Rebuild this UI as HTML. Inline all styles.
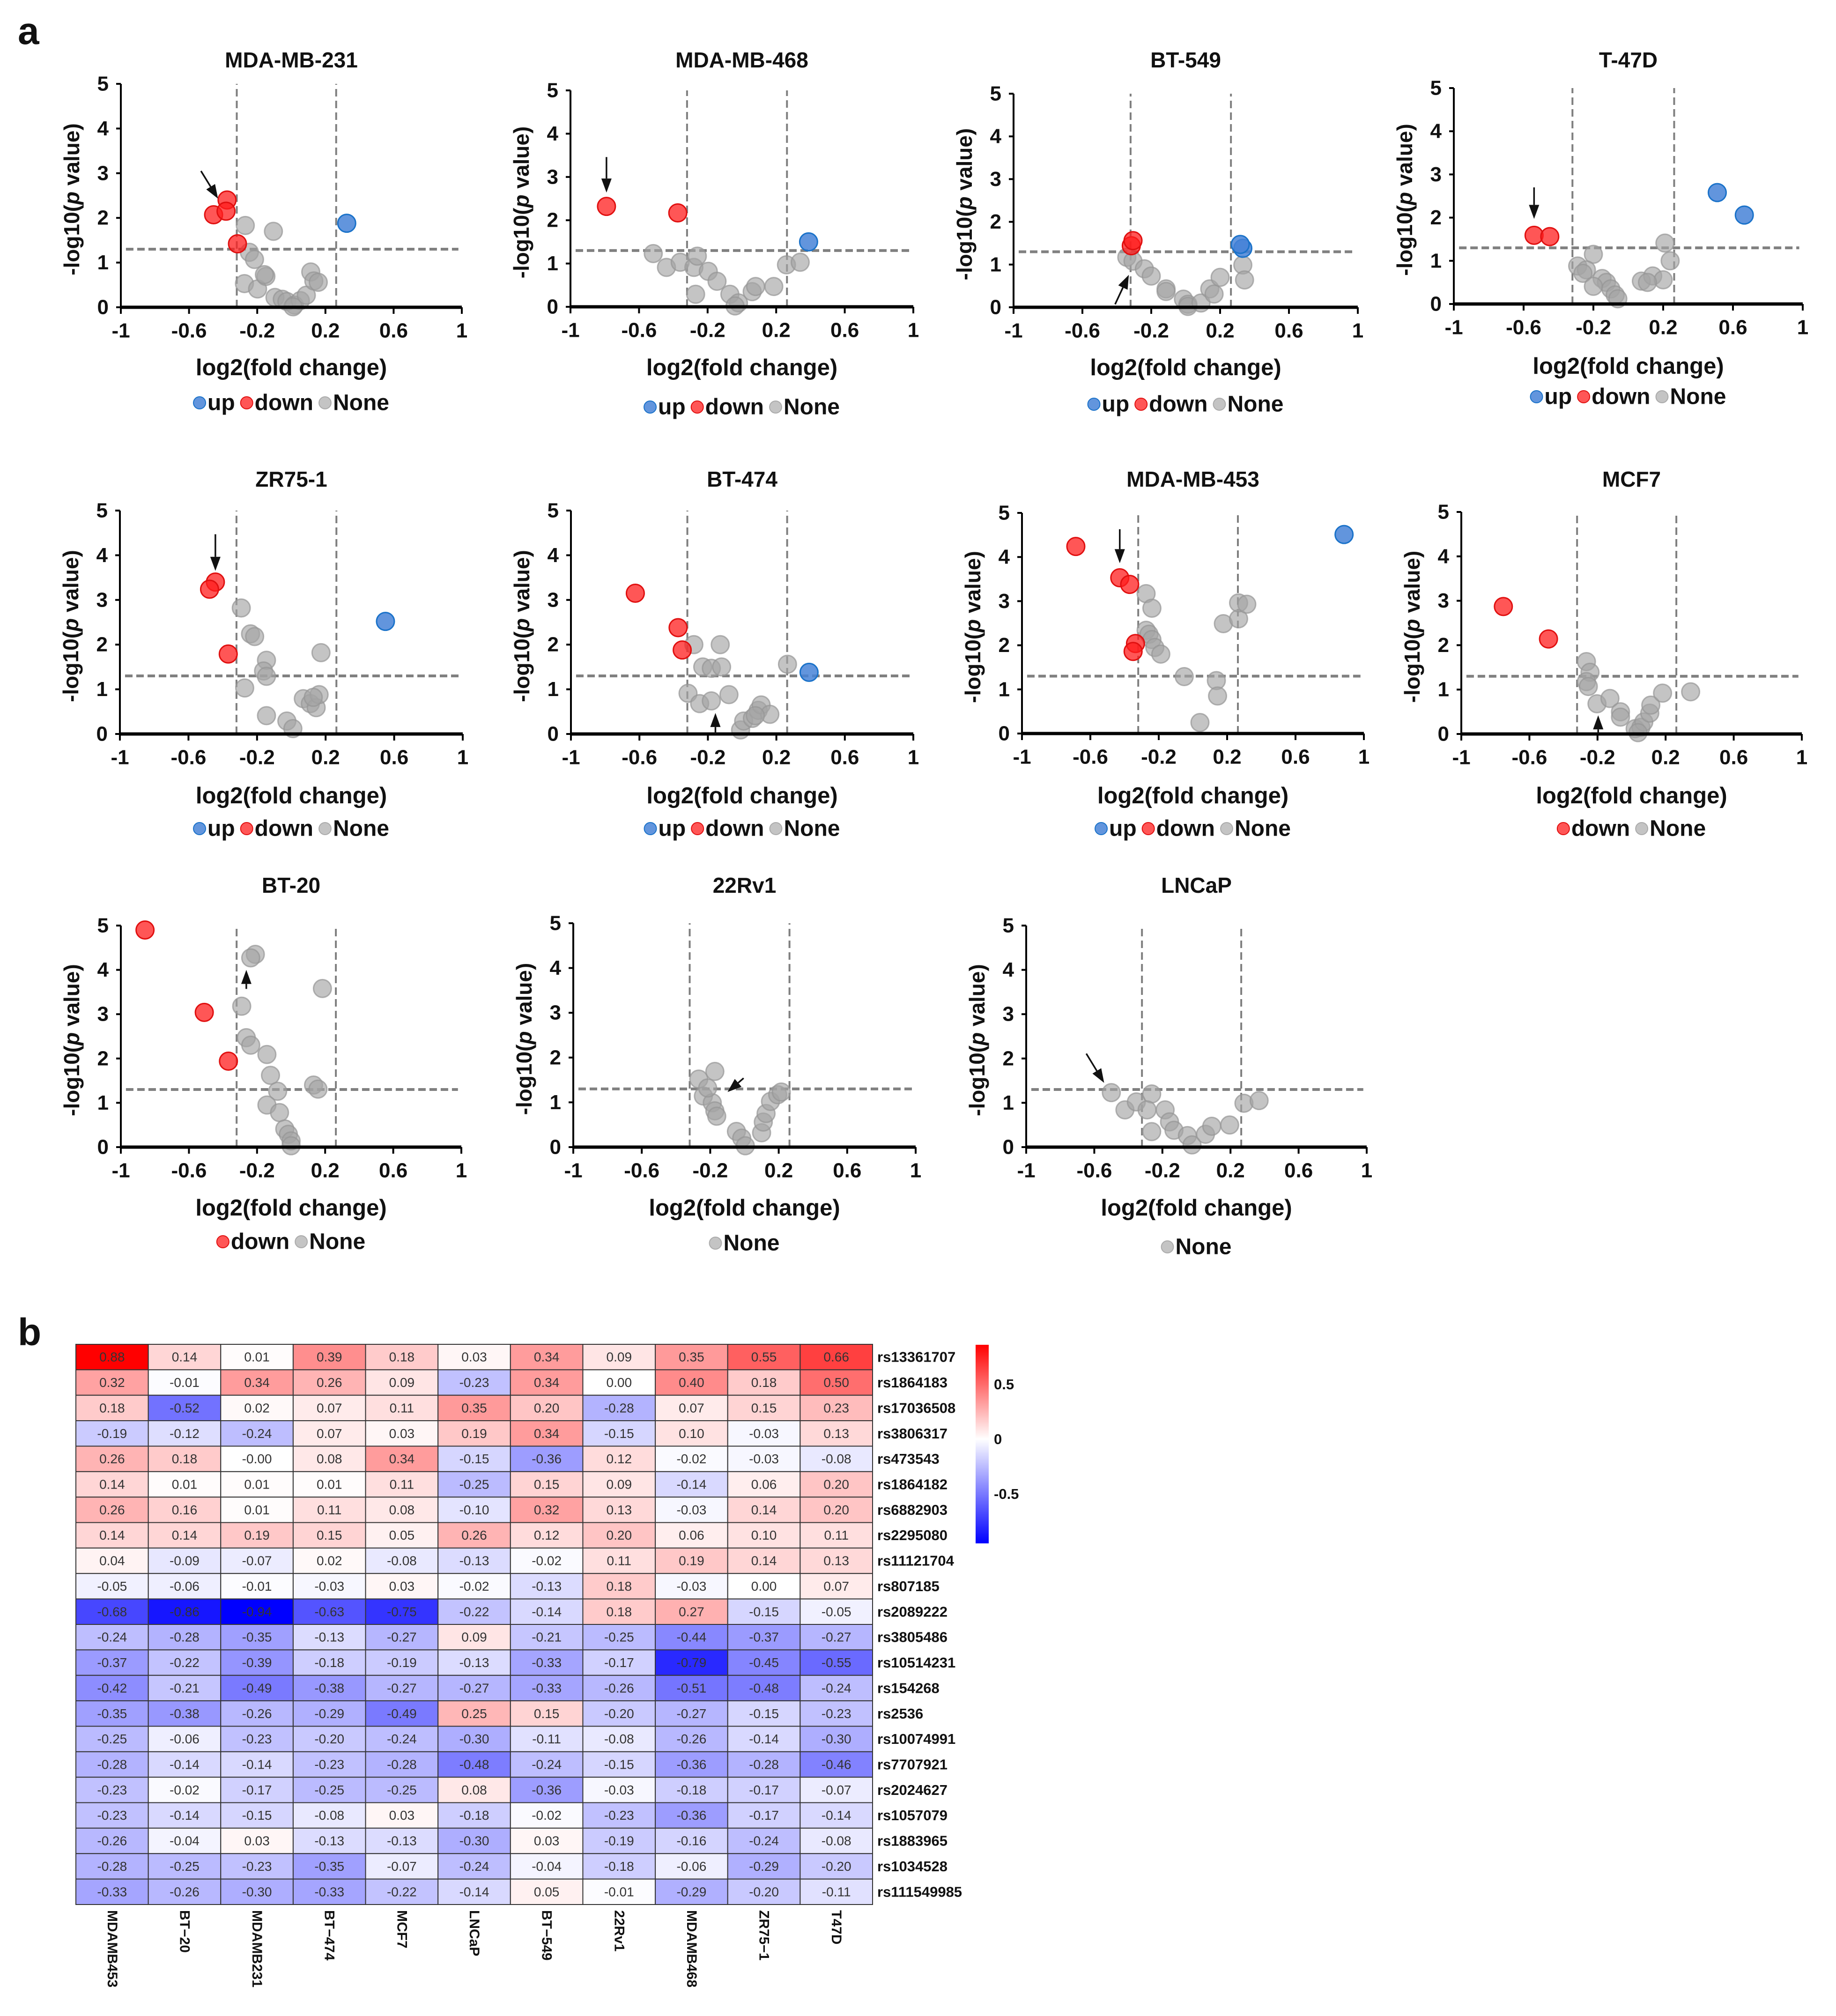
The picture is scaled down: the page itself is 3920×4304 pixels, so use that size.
<!DOCTYPE html>
<html><head><meta charset="utf-8">
<style>
html,body{margin:0;padding:0;background:#fff;}
svg{display:block;font-family:"Liberation Sans",Arial,sans-serif;}
</style></head>
<body>
<svg id="fig" width="3920" height="4304" viewBox="0 0 3920 4304" xmlns="http://www.w3.org/2000/svg">
<defs>
<linearGradient id="cbar" x1="0" y1="0" x2="0" y2="1">
<stop offset="0" stop-color="#ff0000"/><stop offset="0.475" stop-color="#ffffff"/><stop offset="1" stop-color="#0000ff"/>
</linearGradient>
</defs>
<text x="38" y="94" font-size="82" font-weight="bold" fill="#111">a</text>
<text x="38" y="2872" font-size="82" font-weight="bold" fill="#111">b</text>
<g id="volcanoes"></g>
<g id="heatmap"></g>
</svg>
<script>
// ---------- Volcano data (log2 fold change, -log10 p) ----------
const mdamb231_upX=[0.325]; const mdamb231_upY=[1.88];
const mdamb231_downX=[-0.377,-0.456,-0.383,-0.316]; const mdamb231_downY=[2.40,2.07,2.15,1.42];
const mdamb231_noneX=[-0.27,-0.105,-0.246,-0.216,-0.275,-0.198,-0.149,-0.158,-0.096,-0.053,-0.026,0.018,0.053,0.088,0.114,0.132,0.158,0.01];
const mdamb231_noneY=[1.83,1.70,1.23,1.07,0.53,0.41,0.69,0.73,0.22,0.18,0.13,0.05,0.15,0.27,0.79,0.59,0.56,0.01];

const mdamb468_upX=[0.389]; const mdamb468_upY=[1.50];
const mdamb468_downX=[-0.79,-0.374]; const mdamb468_downY=[2.32,2.17];
const mdamb468_noneX=[-0.517,-0.44,-0.36,-0.28,-0.26,-0.196,-0.145,-0.27,-0.07,-0.02,-0.04,0.06,0.08,0.186,0.26,0.34];
const mdamb468_noneY=[1.23,0.91,1.03,0.91,1.17,0.82,0.59,0.29,0.29,0.09,0.02,0.35,0.47,0.47,0.97,1.03];

const bt549_upX=[0.332,0.317]; const bt549_upY=[1.38,1.47];
const bt549_downX=[-0.316,-0.306]; const bt549_downY=[1.44,1.56];
const bt549_noneX=[-0.342,-0.306,-0.24,-0.2,-0.114,-0.114,-0.013,0.013,0.013,0.089,0.14,0.165,0.2,0.332,0.342];
const bt549_noneY=[1.17,1.08,0.90,0.73,0.43,0.37,0.19,0.07,0.02,0.10,0.43,0.31,0.70,0.99,0.64];

const t47d_upX=[0.51,0.665]; const t47d_upY=[2.58,2.06];
const t47d_downX=[-0.54,-0.45]; const t47d_downY=[1.59,1.56];
const t47d_noneX=[-0.2,-0.29,-0.24,-0.26,-0.15,-0.125,-0.2,-0.1,-0.075,-0.06,0.075,0.14,0.2,0.21,0.24,0.11];
const t47d_noneY=[1.15,0.88,0.79,0.71,0.59,0.50,0.41,0.35,0.21,0.12,0.53,0.65,0.56,1.41,1.0,0.5];

const zr751_upX=[0.549]; const zr751_upY=[2.52];
const zr751_downX=[-0.443,-0.477,-0.368]; const zr751_downY=[3.4,3.24,1.79];
const zr751_noneX=[-0.292,-0.238,-0.214,-0.145,-0.162,-0.145,-0.272,-0.145,-0.026,0.009,0.07,0.111,0.145,0.162,0.173,0.128];
const zr751_noneY=[2.82,2.24,2.18,1.65,1.41,1.29,1.03,0.41,0.29,0.12,0.79,0.68,0.59,0.88,1.82,0.82];

const bt474_upX=[0.391]; const bt474_upY=[1.38];
const bt474_downX=[-0.624,-0.374,-0.35]; const bt474_downY=[3.15,2.38,1.88];
const bt474_noneX=[-0.282,-0.128,-0.23,-0.18,-0.12,0.265,-0.316,-0.248,-0.18,-0.077,-0.009,0.009,0.06,0.094,0.111,0.162,0.077];
const bt474_noneY=[2.0,2.0,1.5,1.47,1.5,1.56,0.91,0.68,0.74,0.88,0.09,0.29,0.35,0.53,0.65,0.44,0.41];

const mdamb453_upX=[0.884]; const mdamb453_upY=[4.51];
const mdamb453_downX=[-0.685,-0.428,-0.37,-0.336,-0.35]; const mdamb453_downY=[4.24,3.53,3.38,2.04,1.86];
const mdamb453_noneX=[-0.274,-0.24,-0.274,-0.257,-0.24,-0.223,-0.188,-0.051,0.041,0.137,0.144,0.178,0.267,0.267,0.315];
const mdamb453_noneY=[3.17,2.84,2.34,2.25,2.13,1.95,1.8,1.29,0.25,1.2,0.85,2.49,2.6,2.96,2.93];

const mcf7_upX=[]; const mcf7_upY=[];
const mcf7_downX=[-0.753,-0.488]; const mcf7_downY=[2.87,2.14];
const mcf7_noneX=[-0.265,-0.244,-0.265,-0.254,-0.203,-0.127,-0.065,-0.065,0.021,0.055,0.072,0.107,0.113,0.182,0.347,0.038];
const mcf7_noneY=[1.63,1.39,1.18,1.07,0.68,0.8,0.5,0.38,0.12,0.15,0.27,0.47,0.65,0.92,0.95,0.03];

const bt20_upX=[]; const bt20_upY=[];
const bt20_downX=[-0.858,-0.51,-0.368]; const bt20_downY=[4.9,3.04,1.94];
const bt20_noneX=[-0.21,-0.237,-0.29,-0.263,-0.237,-0.142,-0.121,-0.079,-0.142,-0.068,-0.037,-0.016,0,0,0.132,0.158,0.184];
const bt20_noneY=[4.35,4.27,3.18,2.47,2.3,2.09,1.62,1.26,0.95,0.78,0.41,0.29,0.14,0.03,1.4,1.31,3.58];

const rv22_upX=[]; const rv22_upY=[];
const rv22_downX=[]; const rv22_downY=[];
const rv22_noneX=[-0.267,-0.173,-0.24,-0.188,-0.173,-0.162,-0.215,-0.047,-0.016,0.005,0.1,0.11,0.126,0.152,0.194,0.215];
const rv22_noneY=[1.52,1.69,1.14,0.99,0.81,0.69,1.32,0.35,0.2,0.03,0.32,0.56,0.75,1.02,1.17,1.23];

const lncap_upX=[]; const lncap_upY=[];
const lncap_downX=[]; const lncap_downY=[];
const lncap_noneX=[-0.5,-0.42,-0.353,-0.263,-0.29,-0.184,-0.158,-0.263,-0.132,-0.053,-0.026,0.053,0.09,0.195,0.279,0.368];
const lncap_noneY=[1.23,0.84,1.02,1.2,0.84,0.84,0.57,0.35,0.38,0.26,0.05,0.29,0.47,0.5,0.99,1.05];

const xTicks=[-1,-0.6,-0.2,0.2,0.6,1];
const xTickLabels=["-1","-0.6","-0.2","0.2","0.6","1"];
const yTicks=[0,1,2,3,4,5];
const fcThresholds=[-0.32,0.263];
const pThreshold=1.3;

// ---------- Heatmap data ----------
const cellLines=["MDAMB453","BT\u221220","MDAMB231","BT\u2212474","MCF7","LNCaP","BT\u2212549","22Rv1","MDAMB468","ZR75\u22121","T47D"];
const snps=["rs13361707","rs1864183","rs17036508","rs3806317","rs473543","rs1864182","rs6882903","rs2295080","rs11121704","rs807185","rs2089222","rs3805486","rs10514231","rs154268","rs2536","rs10074991","rs7707921","rs2024627","rs1057079","rs1883965","rs1034528","rs111549985"];
const heatValues=[
[0.88,0.14,0.01,0.39,0.18,0.03,0.34,0.09,0.35,0.55,0.66],
[0.32,-0.01,0.34,0.26,0.09,-0.23,0.34,0.00,0.40,0.18,0.50],
[0.18,-0.52,0.02,0.07,0.11,0.35,0.20,-0.28,0.07,0.15,0.23],
[-0.19,-0.12,-0.24,0.07,0.03,0.19,0.34,-0.15,0.10,-0.03,0.13],
[0.26,0.18,-0.001,0.08,0.34,-0.15,-0.36,0.12,-0.02,-0.03,-0.08],
[0.14,0.01,0.01,0.01,0.11,-0.25,0.15,0.09,-0.14,0.06,0.20],
[0.26,0.16,0.01,0.11,0.08,-0.10,0.32,0.13,-0.03,0.14,0.20],
[0.14,0.14,0.19,0.15,0.05,0.26,0.12,0.20,0.06,0.10,0.11],
[0.04,-0.09,-0.07,0.02,-0.08,-0.13,-0.02,0.11,0.19,0.14,0.13],
[-0.05,-0.06,-0.01,-0.03,0.03,-0.02,-0.13,0.18,-0.03,0.00,0.07],
[-0.68,-0.86,-0.94,-0.63,-0.75,-0.22,-0.14,0.18,0.27,-0.15,-0.05],
[-0.24,-0.28,-0.35,-0.13,-0.27,0.09,-0.21,-0.25,-0.44,-0.37,-0.27],
[-0.37,-0.22,-0.39,-0.18,-0.19,-0.13,-0.33,-0.17,-0.79,-0.45,-0.55],
[-0.42,-0.21,-0.49,-0.38,-0.27,-0.27,-0.33,-0.26,-0.51,-0.48,-0.24],
[-0.35,-0.38,-0.26,-0.29,-0.49,0.25,0.15,-0.20,-0.27,-0.15,-0.23],
[-0.25,-0.06,-0.23,-0.20,-0.24,-0.30,-0.11,-0.08,-0.26,-0.14,-0.30],
[-0.28,-0.14,-0.14,-0.23,-0.28,-0.48,-0.24,-0.15,-0.36,-0.28,-0.46],
[-0.23,-0.02,-0.17,-0.25,-0.25,0.08,-0.36,-0.03,-0.18,-0.17,-0.07],
[-0.23,-0.14,-0.15,-0.08,0.03,-0.18,-0.02,-0.23,-0.36,-0.17,-0.14],
[-0.26,-0.04,0.03,-0.13,-0.13,-0.30,0.03,-0.19,-0.16,-0.24,-0.08],
[-0.28,-0.25,-0.23,-0.35,-0.07,-0.24,-0.04,-0.18,-0.06,-0.29,-0.20],
[-0.33,-0.26,-0.30,-0.33,-0.22,-0.14,0.05,-0.01,-0.29,-0.20,-0.11]
];
const colorbarTicks=[0.5,0,-0.5];

// ---------- layout ----------
const NS="http://www.w3.org/2000/svg";
function mk(tag,attrs,parent){const e=document.createElementNS(NS,tag);for(const k in attrs)e.setAttribute(k,attrs[k]);parent.appendChild(e);return e;}

const plots=[
 {key:"mdamb231",title:"MDA-MB-231",ax:258,x1:986,y0:656,y5:179,tY:128,lY:785,gY:860,leg:["up","down","None"],arrow:[-0.53,3.05,-0.43,2.43]},
 {key:"mdamb468",title:"MDA-MB-468",ax:1218,x1:1950,y0:655,y5:193,tY:128,lY:785,gY:869,leg:["up","down","None"],arrow:[-0.79,3.46,-0.79,2.64]},
 {key:"bt549",title:"BT-549",ax:2164,x1:2899,y0:656,y5:200,tY:128,lY:785,gY:863,leg:["up","down","None"],arrow:[-0.41,0.07,-0.33,0.76]},
 {key:"t47d",title:"T-47D",ax:3104,x1:3849,y0:649,y5:188,tY:128,lY:782,gY:847,leg:["up","down","None"],arrow:[-0.54,2.7,-0.54,1.97]},
 {key:"zr751",title:"ZR75-1",ax:256,x1:988,y0:1567,y5:1090,tY:1023,lY:1699,gY:1769,leg:["up","down","None"],arrow:[-0.443,4.47,-0.443,3.65]},
 {key:"bt474",title:"BT-474",ax:1219,x1:1950,y0:1567,y5:1090,tY:1023,lY:1699,gY:1769,leg:["up","down","None"],arrow:[-0.156,0.0,-0.156,0.47]},
 {key:"mdamb453",title:"MDA-MB-453",ax:2182,x1:2912,y0:1566,y5:1095,tY:1023,lY:1699,gY:1769,leg:["up","down","None"],arrow:[-0.428,4.63,-0.428,3.86]},
 {key:"mcf7",title:"MCF7",ax:3120,x1:3847,y0:1567,y5:1093,tY:1023,lY:1699,gY:1769,leg:["down","None"],arrow:[-0.196,0.0,-0.196,0.42]},
 {key:"bt20",title:"BT-20",ax:258,x1:985,y0:2449,y5:1976,tY:1890,lY:2579,gY:2651,leg:["down","None"],arrow:[-0.263,3.57,-0.263,4.0]},
 {key:"rv22",title:"22Rv1",ax:1224,x1:1955,y0:2449,y5:1971,tY:1890,lY:2579,gY:2654,leg:["None"],arrow:[-0.005,1.54,-0.099,1.23]},
 {key:"lncap",title:"LNCaP",ax:2191,x1:2918,y0:2449,y5:1976,tY:1890,lY:2579,gY:2662,leg:["None"],arrow:[-0.647,2.11,-0.542,1.45]}
];
const dataMap={
 mdamb231:[mdamb231_upX,mdamb231_upY,mdamb231_downX,mdamb231_downY,mdamb231_noneX,mdamb231_noneY],
 mdamb468:[mdamb468_upX,mdamb468_upY,mdamb468_downX,mdamb468_downY,mdamb468_noneX,mdamb468_noneY],
 bt549:[bt549_upX,bt549_upY,bt549_downX,bt549_downY,bt549_noneX,bt549_noneY],
 t47d:[t47d_upX,t47d_upY,t47d_downX,t47d_downY,t47d_noneX,t47d_noneY],
 zr751:[zr751_upX,zr751_upY,zr751_downX,zr751_downY,zr751_noneX,zr751_noneY],
 bt474:[bt474_upX,bt474_upY,bt474_downX,bt474_downY,bt474_noneX,bt474_noneY],
 mdamb453:[mdamb453_upX,mdamb453_upY,mdamb453_downX,mdamb453_downY,mdamb453_noneX,mdamb453_noneY],
 mcf7:[mcf7_upX,mcf7_upY,mcf7_downX,mcf7_downY,mcf7_noneX,mcf7_noneY],
 bt20:[bt20_upX,bt20_upY,bt20_downX,bt20_downY,bt20_noneX,bt20_noneY],
 rv22:[rv22_upX,rv22_upY,rv22_downX,rv22_downY,rv22_noneX,rv22_noneY],
 lncap:[lncap_upX,lncap_upY,lncap_downX,lncap_downY,lncap_noneX,lncap_noneY]
};
const styles={
 up:{fill:"rgba(70,130,215,0.85)",stroke:"#1a72c9"},
 down:{fill:"rgba(255,30,30,0.75)",stroke:"#e01010"},
 None:{fill:"rgba(165,165,165,0.65)",stroke:"rgba(150,150,150,0.7)"}
};

const vroot=document.getElementById("volcanoes");
plots.forEach(p=>{
  const g=mk("g",{},vroot);
  
  
  const sx=v=>p.ax+(v+1)/2*(p.x1-p.ax);
  const sy=v=>p.y0-v/5*(p.y0-p.y5);
  const cx=(p.ax+p.x1)/2;
  const t=mk("text",{x:cx,y:p.tY,"font-size":46,"font-weight":"bold","text-anchor":"middle","dominant-baseline":"central",fill:"#111"},g);
  t.textContent=p.title;
  
  
  fcThresholds.forEach(f=>{
    const l=mk("line",{x1:sx(f),x2:sx(f),y1:sy(0),y2:sy(5),stroke:"#7f7f7f","stroke-width":4,"stroke-dasharray":"16 9"},g);
    
    
  });
  const hl=mk("line",{x1:sx(-0.97),x2:sx(0.98),y1:sy(pThreshold),y2:sy(pThreshold),stroke:"#808080","stroke-width":6,"stroke-dasharray":"16 8"},g);
  
  
  const d=dataMap[p.key];
  [["None",d[4],d[5]],["down",d[2],d[3]],["up",d[0],d[1]]].forEach(([cat,xs,ys])=>{
    xs.forEach((xv,i)=>{
      const c=mk("circle",{cx:sx(xv),cy:sy(ys[i]),r:19,fill:styles[cat].fill,stroke:styles[cat].stroke,"stroke-width":3},g);
      
      
    });
  });
  const ya=mk("line",{x1:p.ax,x2:p.ax,y1:p.y0+3,y2:p.y5,stroke:"#000","stroke-width":4},g);
  
  
  const xa=mk("line",{x1:p.ax,x2:p.x1,y1:p.y0,y2:p.y0,stroke:"#000","stroke-width":7},g);
  
  
  yTicks.forEach(v=>{
    mk("line",{x1:p.ax-10,x2:p.ax,y1:sy(v),y2:sy(v),stroke:"#000","stroke-width":4},g);
    const tl=mk("text",{x:p.ax-26,y:sy(v),"font-size":44,"font-weight":"bold","text-anchor":"end","dominant-baseline":"central",fill:"#111"},g);
    tl.textContent=String(v);
    
    
  });
  xTicks.forEach((v,i)=>{
    mk("line",{x1:sx(v),x2:sx(v),y1:p.y0,y2:p.y0+14,stroke:"#000","stroke-width":4},g);
    const tl=mk("text",{x:sx(v),y:p.y0+50,"font-size":44,"font-weight":"bold","text-anchor":"middle","dominant-baseline":"central",fill:"#111"},g);
    tl.textContent=xTickLabels[i];
    
    
  });
  const xt=mk("text",{x:cx,y:p.lY,"font-size":49,"font-weight":"bold","text-anchor":"middle","dominant-baseline":"central",fill:"#111"},g);
  xt.textContent="log2(fold change)";
  
  
  const ymid=(p.y0+p.y5)/2+8;
  const yt=mk("text",{x:0,y:0,"font-size":46,"font-weight":"bold","text-anchor":"middle","dominant-baseline":"central",fill:"#111",transform:`translate(${p.ax-105},${ymid}) rotate(-90)`},g);
  yt.innerHTML='-log10(<tspan font-style="italic">p</tspan> value)';
  
  
  const [ax1,ay1,ax2,ay2]=p.arrow;
  const X1=sx(ax1),Y1=sy(ay1),X2=sx(ax2),Y2=sy(ay2);
  const ang=Math.atan2(Y2-Y1,X2-X1),L=30,W=11;
  const bx=X2-L*Math.cos(ang),by=Y2-L*Math.sin(ang);
  const ag=mk("g",{},g);
  
  
  mk("line",{x1:X1,y1:Y1,x2:bx,y2:by,stroke:"#111","stroke-width":3.5},ag);
  mk("polygon",{points:`${X2},${Y2} ${bx+W*Math.sin(ang)},${by-W*Math.cos(ang)} ${bx-W*Math.sin(ang)},${by+W*Math.cos(ang)}`,fill:"#111"},ag);
  const lg=mk("g",{},g);
  
  
  let xpos=0;
  p.leg.forEach(cat=>{
    const ent=mk("g",{},lg);
    
    
    mk("circle",{cx:xpos+13,cy:p.gY,r:13,fill:styles[cat].fill,stroke:styles[cat].stroke,"stroke-width":2},ent);
    const tx=mk("text",{x:xpos+30,y:p.gY,"font-size":48,"font-weight":"bold","dominant-baseline":"central",fill:"#111"},ent);
    tx.textContent=cat;
    xpos+=30+tx.getComputedTextLength()+12;
  });
  xpos-=12;
  lg.setAttribute("transform",`translate(${cx-xpos/2},0)`);
});

// ---------- heatmap ----------
const hroot=document.getElementById("heatmap");
const HL=162,HR=1863,HT=2870,HB=4066;
const cw=(HR-HL)/cellLines.length, rh=(HB-HT)/snps.length;
function heatColor(v){
  if(v>=0){const t=Math.min(v/0.88,1);const c=Math.round(255*(1-t));return `rgb(255,${c},${c})`;}
  const t=Math.min(-v/0.94,1);const c=Math.round(255*(1-t));return `rgb(${c},${c},255)`;
}
heatValues.forEach((row,i)=>{
  row.forEach((v,j)=>{
    const x=HL+j*cw,y=HT+i*rh;
    const r=mk("rect",{x:x,y:y,width:cw,height:rh,fill:heatColor(v),stroke:"#333","stroke-width":2},hroot);
    
    
    const t=mk("text",{x:x+cw/2,y:y+rh/2,"font-size":28,"text-anchor":"middle","dominant-baseline":"central",fill:"#333"},hroot);
    t.textContent=v.toFixed(2);
    
    
  });
});
snps.forEach((s,i)=>{
  const t=mk("text",{x:HR+10,y:HT+(i+0.5)*rh,"font-size":31,"font-weight":"bold","dominant-baseline":"central",fill:"#111"},hroot);
  t.textContent=s;
  
  
});
cellLines.forEach((c,j)=>{
  const x=HL+(j+0.5)*cw;
  const t=mk("text",{x:0,y:0,"font-size":30,"font-weight":"bold","dominant-baseline":"central",fill:"#111",transform:`translate(${x},${HB+12}) rotate(90)`},hroot);
  t.textContent=c;
  
  
});
const CBT=2871,CBB=3295,CBmax=0.86,CBmin=-0.95;
const cb=mk("rect",{x:2083,y:CBT,width:28,height:CBB-CBT,fill:"url(#cbar)"},hroot);


colorbarTicks.forEach(v=>{
  const y=CBT+(CBmax-v)/(CBmax-CBmin)*(CBB-CBT);
  const t=mk("text",{x:2122,y:y,"font-size":31,"font-weight":"bold","dominant-baseline":"central",fill:"#111"},hroot);
  t.textContent=String(v);
  
  
});
</script>
</body></html>
